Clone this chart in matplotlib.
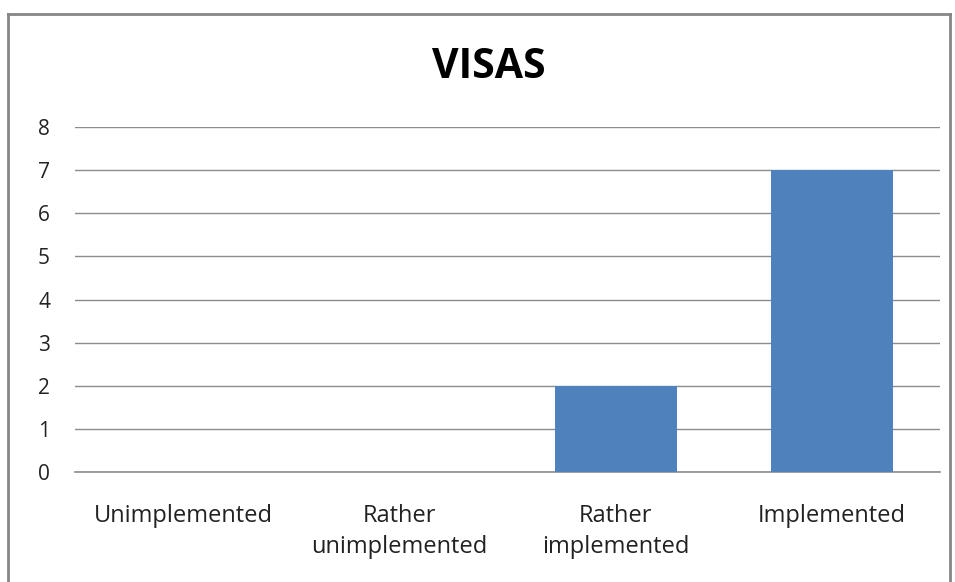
import matplotlib
matplotlib.use("Agg")
import matplotlib.pyplot as plt
from matplotlib.lines import Line2D

categories = ["Unimplemented", "Rather\nunimplemented", "Rather\nimplemented", "Implemented"]
values = [0, 0, 2, 7]
y_ticks = [0, 1, 2, 3, 4, 5, 6, 7, 8]
title = "VISAS"

plt.rcParams['font.family'] = ['Open Sans', 'DejaVu Sans']

W, H = 955, 582
fig = plt.figure(figsize=(W / 100, H / 100), dpi=100)
fig.patch.set_facecolor('white')

# outer chart border (open at bottom, as in the screenshot)
bc = '#868686'
fig.add_artist(Line2D([8 / W, 8 / W], [0, 1 - 14 / H], color=bc, lw=2))
fig.add_artist(Line2D([8 / W, 950 / W], [1 - 14 / H, 1 - 14 / H], color=bc, lw=2))
fig.add_artist(Line2D([950 / W, 950 / W], [0, 1 - 14 / H], color=bc, lw=2))

ax = fig.add_axes([75 / W, 1 - 472 / H, (940 - 75) / W, (472 - 127) / H])
x = list(range(len(categories)))
ax.bar(x, values, width=0.565, color='#4f81bd', zorder=3)

ax.set_xlim(-0.5, len(categories) - 0.5)
ax.set_ylim(0, 8)
ax.set_yticks(y_ticks)
ax.set_yticklabels([str(v) for v in y_ticks], fontsize=15, color='#222222')
ax.set_xticks(x)
ax.set_xticklabels(categories, fontsize=17, color='#222222', linespacing=1.38)
ax.tick_params(axis='y', length=0, pad=18)
ax.tick_params(axis='x', length=0, pad=23)

ax.grid(axis='y', color='#8c8c8c', lw=1, zorder=0)
for s in ['top', 'right', 'left']:
    ax.spines[s].set_visible(False)
ax.spines['bottom'].set_color('#8c8c8c')
ax.spines['bottom'].set_linewidth(1.2)

fig.text(489 / W, 1 - 67 / H, title, ha='center', va='center',
         fontsize=29.5, fontweight='bold', color='black')

fig.savefig('out.png', dpi=100, facecolor='white')
